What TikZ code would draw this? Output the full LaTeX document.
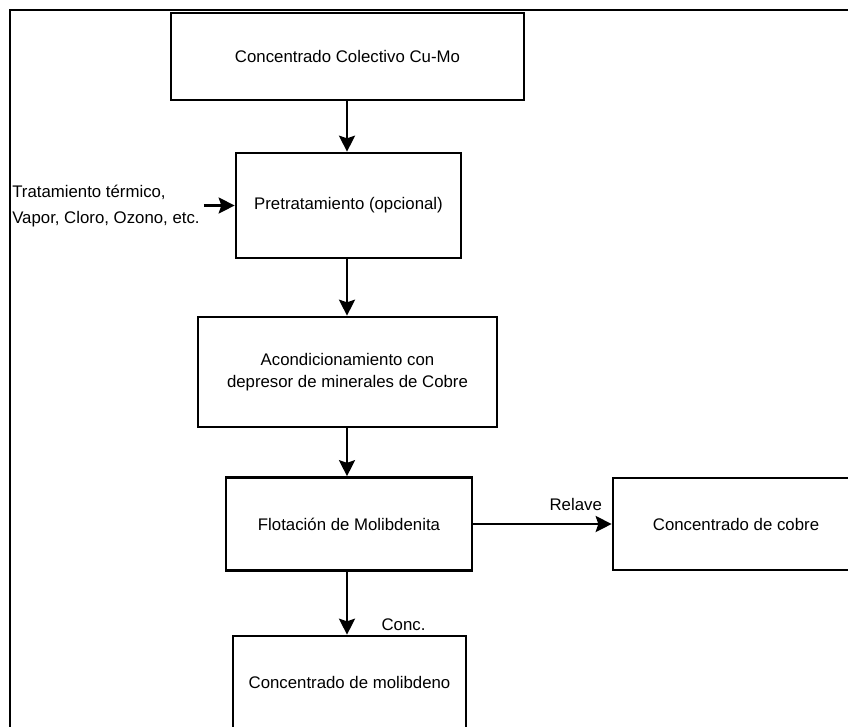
\documentclass[tikz,border=0pt]{standalone}
\usepackage{fontspec}
\setmainfont{Liberation Sans}
\usetikzlibrary{arrows.meta}
\begin{document}
\begin{tikzpicture}[x=0.75pt,y=-0.75pt,
  every node/.style={font=\fontsize{12.6}{15}\selectfont},
  procbox/.style={draw=black,line width=2pt,rectangle,inner sep=2pt,align=center},
  arr/.style={line width=1.8pt,-{Stealth[length=12pt,width=12pt,inset=2pt]}},
  lbl/.style={inner sep=0pt}]
\useasboundingbox (0,0) rectangle (848,726);
\clip (0,0) rectangle (848,726);
\fill[white] (0,0) rectangle (848,726);
% outer frame (top and left edges)
\draw[line width=2pt] (10,730) -- (10,10) -- (850,10);
% process boxes
\node[procbox,minimum width=353*0.75pt,minimum height=87*0.75pt] (colectivo) at (347.5,56.5) {Concentrado Colectivo Cu-Mo};
\node[procbox,minimum width=225*0.75pt,minimum height=105*0.75pt] (pretrat) at (348.5,205.5) {Pretratamiento (opcional)};
\node[procbox,minimum width=299*0.75pt,minimum height=110*0.75pt] (acond) at (347.5,372) {Acondicionamiento con\\[1pt]depresor de minerales de Cobre};
\node[procbox,minimum width=246*0.75pt,minimum height=93*0.75pt] (flot) at (349,524) {Flotación de Molibdenita};
\node[procbox,minimum width=246*0.75pt,minimum height=92*0.75pt] (cobre) at (736,524) {Concentrado de cobre};
\node[procbox,minimum width=233*0.75pt,minimum height=93*0.75pt] (molib) at (349.5,682.5) {Concentrado de molibdeno};
% reagent input text
\node[lbl,anchor=west,align=left] (insumos) at (12,206) {Tratamiento térmico,\\[4pt]Vapor, Cloro, Ozono, etc.};
% connectors
\coordinate (axis) at (347,0);
\draw[arr] (axis |- colectivo.south) -- (axis |- pretrat.north);
\draw[arr] (axis |- pretrat.south) -- (axis |- acond.north);
\draw[arr] (axis |- acond.south) -- (axis |- flot.north);
\draw[arr] (axis |- flot.south) -- (axis |- molib.north)
  node[pos=0.84,right=25pt,lbl] (conc) {Conc.};
\draw[arr] (flot.east) -- (flot.east -| cobre.west)
  node[pos=0.74,above=9pt,lbl] (relave) {Relave};
\draw[arr] ([xshift=3pt]insumos.east |- pretrat.west) -- (pretrat.west);
\end{tikzpicture}
\end{document}
